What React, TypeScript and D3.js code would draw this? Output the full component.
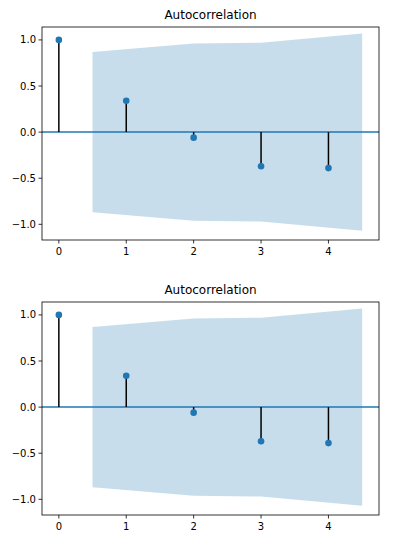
import React from "react";
import * as d3 from "d3";

const lags = [0, 1, 2, 3, 4];
const acf = [1.0, 0.34, -0.06, -0.37, -0.39];
const confLags = [0.5, 2, 3, 4.5];
const confVals = [0.87, 0.96, 0.97, 1.07];
const xTicks = [0, 1, 2, 3, 4];
const yTicks = [-1.0, -0.5, 0.0, 0.5, 1.0];
const title = "Autocorrelation";

const W = 405, H = 552;
const L = 42, R = 379;
const panels = [{ top: 27, bottom: 240 }, { top: 302, bottom: 515 }];

function Panel({ top, bottom }: { top: number; bottom: number }) {
  const x = d3.scaleLinear().domain([-0.25, 4.75]).range([L, R]);
  const y = d3.scaleLinear().domain([-1.17, 1.14]).range([bottom, top]);
  const area = d3.area<number>()
    .x((_, i) => x(confLags[i]))
    .y0((d) => y(-d))
    .y1((d) => y(d));
  const font = "DejaVu Sans, sans-serif";
  return (
    <g>
      <path d={area(confVals) || ""} fill="#1f77b4" fillOpacity={0.25} />
      <line x1={L} x2={R} y1={y(0)} y2={y(0)} stroke="#1f77b4" strokeWidth={1.5} />
      {lags.map((l, i) => (
        <g key={l}>
          <line x1={x(l)} x2={x(l)} y1={y(0)} y2={y(acf[i])} stroke="black" strokeWidth={1.5} />
          <circle cx={x(l)} cy={y(acf[i])} r={3.3} fill="#1f77b4" />
        </g>
      ))}
      <rect x={L} y={top} width={R - L} height={bottom - top} fill="none" stroke="black" strokeWidth={0.8} />
      {xTicks.map((t) => (
        <g key={t}>
          <line x1={x(t)} x2={x(t)} y1={bottom} y2={bottom + 3.5} stroke="black" strokeWidth={0.8} />
          <text x={x(t)} y={bottom + 15} textAnchor="middle" fontSize={10} fontFamily={font}>{t}</text>
        </g>
      ))}
      {yTicks.map((t) => (
        <g key={t}>
          <line x1={L - 3.5} x2={L} y1={y(t)} y2={y(t)} stroke="black" strokeWidth={0.8} />
          <text x={L - 6} y={y(t) + 3.5} textAnchor="end" fontSize={10} fontFamily={font}>
            {t < 0 ? "\u2212" + Math.abs(t).toFixed(1) : t.toFixed(1)}
          </text>
        </g>
      ))}
      <text x={(L + R) / 2} y={top - 8} textAnchor="middle" fontSize={12} fontFamily={font}>{title}</text>
    </g>
  );
}

export default function App() {
  return (
    <svg width={W} height={H} style={{ position: "absolute", left: 0, top: 0, background: "white" }}>
      {panels.map((p, i) => <Panel key={i} top={p.top} bottom={p.bottom} />)}
    </svg>
  );
}
